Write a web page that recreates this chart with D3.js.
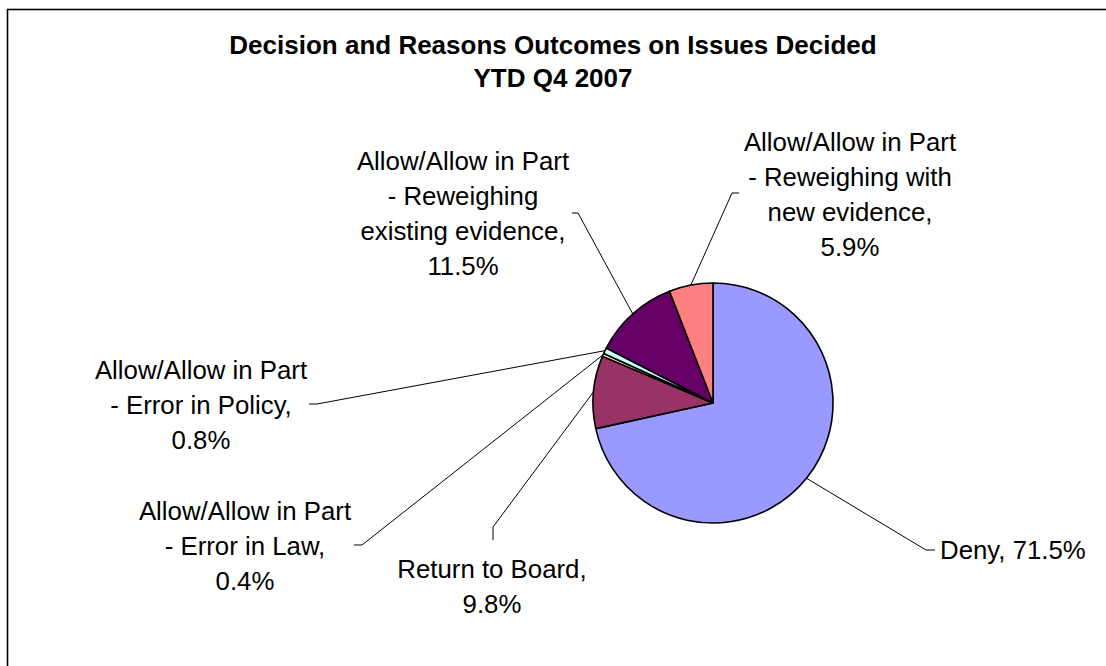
<!DOCTYPE html>
<html>
<head>
<meta charset="utf-8">
<script src="https://cdn.jsdelivr.net/npm/d3@7/dist/d3.min.js"></script>
<style>
  html, body { margin: 0; padding: 0; background: #fff; }
  svg { display: block; }
  text { font-family: "Liberation Sans", Arial, sans-serif; fill: #000; }
</style>
</head>
<body>
<svg id="chart" width="1106" height="666"></svg>
<script>
// ---- data ----
const categories = [
  "Deny",
  "Return to Board",
  "Allow/Allow in Part - Error in Law",
  "Allow/Allow in Part - Error in Policy",
  "Allow/Allow in Part - Reweighing existing evidence",
  "Allow/Allow in Part - Reweighing with new evidence"
];
const values = [71.5, 9.8, 0.4, 0.8, 11.5, 5.9];
const colors = ["#9999FF", "#993366", "#FFFFCC", "#CCFFFF", "#660066", "#FF8080"];
const labelLines = [
  ["Deny, 71.5%"],
  ["Return to Board,", "9.8%"],
  ["Allow/Allow in Part", "- Error in Law,", "0.4%"],
  ["Allow/Allow in Part", "- Error in Policy,", "0.8%"],
  ["Allow/Allow in Part", "- Reweighing", "existing evidence,", "11.5%"],
  ["Allow/Allow in Part", "- Reweighing with", "new evidence,", "5.9%"]
];
const titleLines = ["Decision and Reasons Outcomes on Issues Decided", "YTD Q4 2007"];

// ---- layout (positions of text / leader bends) ----
const cx = 713, cy = 403, radius = 120;
const labelLayout = [
  { x: 940, y: 559, anchor: "start", bend: [926, 550], end: [935, 550] },
  { x: 492, y: 578, anchor: "middle", bend: [493, 527], end: [493, 540] },
  { x: 245, y: 520, anchor: "middle", bend: [362, 545], end: [354, 545] },
  { x: 201, y: 379, anchor: "middle", bend: [317, 404], end: [309, 404] },
  { x: 463, y: 170, anchor: "middle", bend: [578, 213], end: [572, 213] },
  { x: 850, y: 151, anchor: "middle", bend: [732, 193], end: [739, 193] }
];
const lineHeight = 35;

const svg = d3.select("#chart");

// border
svg.append("rect")
  .attr("x", 7.5).attr("y", 9.5)
  .attr("width", 1120).attr("height", 700)
  .attr("fill", "none").attr("stroke", "#000").attr("stroke-width", 1.6);

// title
svg.append("g").selectAll("text").data(titleLines).join("text")
  .attr("x", 553)
  .attr("y", (d, i) => 54 + i * 33)
  .attr("text-anchor", "middle")
  .attr("font-size", 26)
  .attr("font-weight", "bold")
  .text(d => d);

const data = categories.map((c, i) => ({ name: c, value: values[i], color: colors[i], lines: labelLines[i], layout: labelLayout[i] }));

const pie = d3.pie().sort(null).value(d => d.value).startAngle(0).endAngle(2 * Math.PI);
const arcs = pie(data);
const arc = d3.arc().innerRadius(0).outerRadius(radius);
const edgeArc = d3.arc().innerRadius(radius).outerRadius(radius);

const g = svg.append("g").attr("transform", `translate(${cx},${cy})`);

g.selectAll("path.slice").data(arcs).join("path")
  .attr("class", "slice")
  .attr("d", arc)
  .attr("fill", d => d.data.color)
  .attr("stroke", "#000")
  .attr("stroke-width", 1.6)
  .attr("stroke-linejoin", "round");

// leader lines
svg.append("g").selectAll("polyline").data(arcs).join("polyline")
  .attr("points", d => {
    const [ex, ey] = edgeArc.centroid(d);
    const L = d.data.layout;
    return [[cx + ex, cy + ey], L.bend, L.end].map(p => p.join(",")).join(" ");
  })
  .attr("fill", "none")
  .attr("stroke", "#000")
  .attr("stroke-width", 1);

// labels
const labels = svg.append("g").selectAll("text").data(data).join("text")
  .attr("x", d => d.layout.x)
  .attr("y", d => d.layout.y)
  .attr("text-anchor", d => d.layout.anchor)
  .attr("font-size", 25.8);

labels.selectAll("tspan").data(d => d.lines.map(t => ({ t, x: d.layout.x })))
  .join("tspan")
  .attr("x", d => d.x)
  .attr("dy", (d, i) => i === 0 ? 0 : lineHeight)
  .text(d => d.t);
</script>
</body>
</html>
